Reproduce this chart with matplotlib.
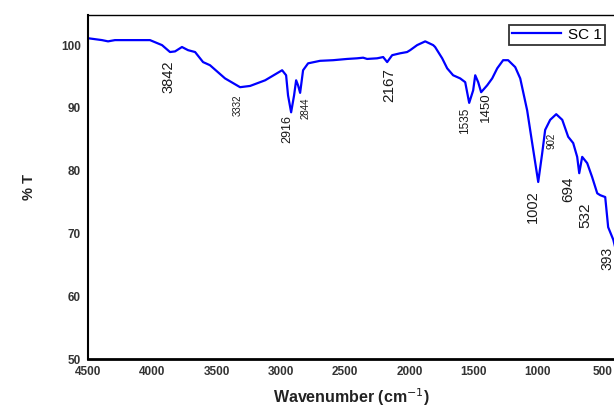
import numpy as np
import matplotlib.pyplot as plt

# widmo FTIR
wavenumber = [4500, 4391, 4344, 4290, 4212, 4018, 3924, 3862, 3823, 3769, 3722, 3667,
              3605, 3551, 3434, 3317, 3239, 3122, 2990, 2959, 2944, 2920, 2897, 2881,
              2866, 2850, 2827, 2788, 2695, 2593, 2484, 2407, 2360, 2329, 2251, 2204,
              2173, 2134, 2072, 2018, 1994, 1940, 1877, 1815, 1800, 1745, 1706, 1660,
              1605, 1566, 1535, 1504, 1488, 1465, 1442, 1395, 1356, 1317, 1271, 1232,
              1177, 1138, 1084, 1045, 998, 967, 944, 905, 858, 811, 765, 726, 695,
              679, 656, 617, 579, 539, 516, 477, 454, 414, 390]
transmittance = [101.1, 100.8, 100.6, 100.8, 100.8, 100.8, 100.0, 98.9, 99.0, 99.7, 99.2, 98.9,
                 97.3, 96.8, 94.7, 93.3, 93.5, 94.4, 96.0, 95.2, 92.0, 89.3, 92.0, 94.4,
                 93.6, 92.4, 96.0, 97.1, 97.5, 97.6, 97.8, 97.9, 98.0, 97.8, 97.9, 98.1,
                 97.3, 98.4, 98.7, 98.9, 99.2, 100.0, 100.6, 100.0, 99.7, 97.9, 96.3, 95.2,
                 94.7, 94.1, 90.8, 92.8, 95.2, 94.1, 92.5, 93.6, 94.7, 96.3, 97.6, 97.6,
                 96.5, 94.7, 89.6, 84.4, 78.2, 82.8, 86.5, 88.1, 89.0, 88.1, 85.4, 84.4, 82.2,
                 79.6, 82.2, 81.2, 79.0, 76.4, 76.1, 75.8, 71.0, 69.0, 67.0]

# etykiety pikow
peak_labels = ["3842", "3332", "2916", "2844", "2167", "1535", "1450",
               "1002", "902", "694", "532", "393"]
label_x = [3877, 3333, 2951, 2811, 2158, 1566, 1403, 1037, 897, 765, 632, 461]
label_y = [97.6, 92.2, 88.9, 91.7, 96.3, 90.0, 92.4, 76.9, 86.1, 79.0, 75.0, 67.8]
label_size = [10.5, 7, 9, 7, 11, 8.5, 9.5, 10.5, 7, 11, 11, 10]

plt.rcParams['font.family'] = ['Liberation Sans', 'DejaVu Sans']

fig = plt.figure(figsize=(6.14, 4.12), dpi=100)
ax = fig.add_axes([0.1433, 0.1286, 0.8585, 0.835])

ax.plot(wavenumber, transmittance, color='#0000ff', linewidth=1.6, label="SC 1")

for txt, lx, ly, fs in zip(peak_labels, label_x, label_y, label_size):
    ax.text(lx, ly, txt, rotation=90, ha='center', va='top', fontsize=fs,
            color='#1a1a1a')

ax.set_xlim(4500, 400)
ax.set_ylim(50, 104.8)
ax.set_xticks([4500, 4000, 3500, 3000, 2500, 2000, 1500, 1000, 500])
ax.set_yticks([50, 60, 70, 80, 90, 100])
ax.tick_params(length=0, labelsize=8.5, pad=5)
for lab in ax.get_xticklabels() + ax.get_yticklabels():
    lab.set_fontweight('bold')
    lab.set_color('#333333')

ax.spines['right'].set_visible(False)
ax.spines['left'].set_linewidth(1.5)
ax.spines['bottom'].set_linewidth(2)
ax.spines['top'].set_linewidth(1)

ax.set_xlabel("Wavenumber (cm$^{-1}$)", fontsize=11.5, fontweight='bold',
              color='#222222', labelpad=6)
ax.set_ylabel("% T", fontsize=10.5, fontweight='bold', color='#222222', labelpad=18)

leg = ax.legend(loc='upper right', bbox_to_anchor=(0.99, 0.985), fontsize=11,
                fancybox=False, edgecolor='black', handlelength=3.2,
                borderpad=0.2, handletextpad=0.5, borderaxespad=0.3)
leg.get_frame().set_linewidth(1.3)

fig.savefig("out.png", dpi=100)
